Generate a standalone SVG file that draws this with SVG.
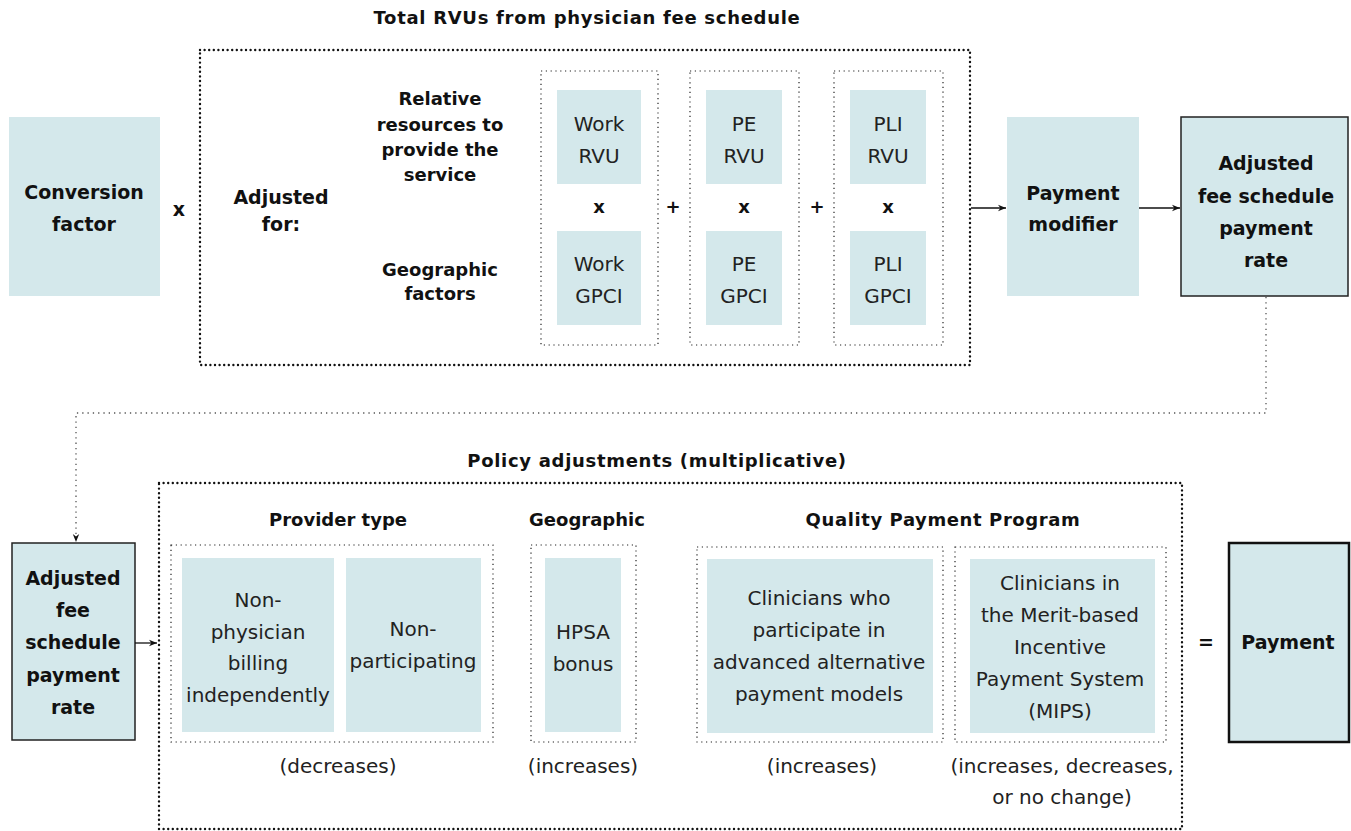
<svg xmlns="http://www.w3.org/2000/svg" width="1351" height="831" viewBox="0 0 1351 831">
<style>
.t{fill:#d4e8eb}
.nb{fill:#d4e8eb;stroke:#222;stroke-width:1.5}
.pb{fill:#d4e8eb;stroke:#111;stroke-width:2.5}
.big{fill:none;stroke:#111;stroke-width:2.4;stroke-dasharray:0 4.6;stroke-linecap:round}
.sm{fill:none;stroke:#222;stroke-width:1.2;stroke-dasharray:1.2 3.6}
.b{font-family:"DejaVu Sans","Liberation Sans",sans-serif;font-weight:700;fill:#111;text-anchor:middle}
.r{font-family:"DejaVu Sans","Liberation Sans",sans-serif;font-weight:400;fill:#222;text-anchor:middle;font-size:20px}
.f19{font-size:19px}
.f18{font-size:18px}
.ti{font-size:18px;letter-spacing:0.7px}
.qp{letter-spacing:0.6px}
.ln{fill:none;stroke:#111;stroke-width:1.3}
.dl{fill:none;stroke:#555;stroke-width:1.3;stroke-dasharray:1.3 4;stroke-linecap:butt}
</style>
<defs>
<marker id="ah" viewBox="0 0 10 10" refX="10" refY="5" markerWidth="8" markerHeight="8" markerUnits="userSpaceOnUse" orient="auto">
<path d="M0,1 L10,5 L0,9 L3,5 Z" fill="#111"/>
</marker>
</defs>

<text class="b ti" x="587" y="24">Total RVUs from physician fee schedule</text>
<text class="b ti" x="657" y="467">Policy adjustments (multiplicative)</text>

<g id="conversion">
<rect class="t" x="9" y="117" width="151" height="179"/>
<text class="b f19" x="84" y="199">Conversion</text>
<text class="b f19" x="84" y="231">factor</text>
</g>
<text class="b f19" x="179" y="216">x</text>

<g id="total-rvus">
<rect class="big" x="200" y="50" width="770" height="315"/>
<text class="b f19" x="281" y="204">Adjusted</text>
<text class="b f19" x="281" y="231">for:</text>
<text class="b f18" x="440" y="105">Relative</text>
<text class="b f18" x="440" y="131">resources to</text>
<text class="b f18" x="440" y="156">provide the</text>
<text class="b f18" x="440" y="181">service</text>
<text class="b f18" x="440" y="276">Geographic</text>
<text class="b f18" x="440" y="300">factors</text>
</g>

<g id="work">
<rect class="sm" x="541" y="71" width="117" height="274"/>
<rect class="t" x="557" y="90" width="84" height="94"/>
<text class="r" x="599" y="131">Work</text>
<text class="r" x="599" y="163">RVU</text>
<text class="b f18" x="599" y="213">x</text>
<rect class="t" x="557" y="231" width="84" height="94"/>
<text class="r" x="599" y="271">Work</text>
<text class="r" x="599" y="303">GPCI</text>
</g>
<text class="b f18" x="673" y="213">+</text>
<g id="pe">
<rect class="sm" x="690" y="71" width="109" height="274"/>
<rect class="t" x="706" y="90" width="76" height="94"/>
<text class="r" x="744" y="131">PE</text>
<text class="r" x="744" y="163">RVU</text>
<text class="b f18" x="744" y="213">x</text>
<rect class="t" x="706" y="231" width="76" height="94"/>
<text class="r" x="744" y="271">PE</text>
<text class="r" x="744" y="303">GPCI</text>
</g>
<text class="b f18" x="817" y="213">+</text>
<g id="pli">
<rect class="sm" x="834" y="71" width="109" height="274"/>
<rect class="t" x="850" y="90" width="76" height="94"/>
<text class="r" x="888" y="131">PLI</text>
<text class="r" x="888" y="163">RVU</text>
<text class="b f18" x="888" y="213">x</text>
<rect class="t" x="850" y="231" width="76" height="94"/>
<text class="r" x="888" y="271">PLI</text>
<text class="r" x="888" y="303">GPCI</text>
</g>

<g id="payment-modifier">
<rect class="t" x="1007" y="117" width="132" height="179"/>
<text class="b f19" x="1073" y="200">Payment</text>
<text class="b f19" x="1073" y="231">modifier</text>
</g>

<g id="adjusted-top">
<rect class="nb" x="1181" y="117" width="167" height="179"/>
<text class="b f19" x="1266" y="170">Adjusted</text>
<text class="b f19" x="1266" y="203">fee schedule</text>
<text class="b f19" x="1266" y="235">payment</text>
<text class="b f19" x="1266" y="267">rate</text>
</g>

<g id="adjusted-bottom">
<rect class="nb" x="12" y="543" width="123" height="197"/>
<text class="b f19" x="73" y="585">Adjusted</text>
<text class="b f19" x="73" y="617">fee</text>
<text class="b f19" x="73" y="649">schedule</text>
<text class="b f19" x="73" y="682">payment</text>
<text class="b f19" x="73" y="714">rate</text>
</g>

<g id="policy">
<rect class="big" x="159" y="483" width="1023" height="346"/>
</g>

<g id="provider-type">
<text class="b f18" x="338" y="526">Provider type</text>
<rect class="sm" x="171" y="545" width="322" height="197"/>
<rect class="t" x="182" y="558" width="152" height="174"/>
<text class="r" x="258" y="607">Non-</text>
<text class="r" x="258" y="639">physician</text>
<text class="r" x="258" y="670">billing</text>
<text class="r" x="258" y="702">independently</text>
<rect class="t" x="346" y="558" width="135" height="174"/>
<text class="r" x="413" y="636">Non-</text>
<text class="r" x="413" y="668">participating</text>
<text class="r" x="338" y="773">(decreases)</text>
</g>

<g id="geographic">
<text class="b f18" x="587" y="526">Geographic</text>
<rect class="sm" x="531" y="545" width="105" height="197"/>
<rect class="t" x="545" y="558" width="76" height="174"/>
<text class="r" x="583" y="639">HPSA</text>
<text class="r" x="583" y="671">bonus</text>
<text class="r" x="583" y="773">(increases)</text>
</g>

<g id="qpp">
<text class="b f18 qp" x="943" y="526">Quality Payment Program</text>
<rect class="sm" x="697" y="547" width="246" height="195"/>
<rect class="t" x="707" y="559" width="226" height="174"/>
<text class="r" x="819" y="605">Clinicians who</text>
<text class="r" x="819" y="637">participate in</text>
<text class="r" x="819" y="669">advanced alternative</text>
<text class="r" x="819" y="701">payment models</text>
<text class="r" x="822" y="773">(increases)</text>
<rect class="sm" x="955" y="547" width="211" height="195"/>
<rect class="t" x="970" y="559" width="185" height="174"/>
<text class="r" x="1060" y="590">Clinicians in</text>
<text class="r" x="1060" y="622">the Merit-based</text>
<text class="r" x="1060" y="654">Incentive</text>
<text class="r" x="1060" y="686">Payment System</text>
<text class="r" x="1060" y="718">(MIPS)</text>
<text class="r" x="1062" y="773">(increases, decreases,</text>
<text class="r" x="1062" y="804">or no change)</text>
</g>

<text class="b f19" x="1206" y="649">=</text>

<g id="payment">
<rect class="pb" x="1229" y="543" width="120" height="199"/>
<text class="b f19" x="1288" y="649">Payment</text>
</g>

<g id="connectors">
<line class="ln" x1="971" y1="208" x2="1006" y2="208" marker-end="url(#ah)"/>
<line class="ln" x1="1139" y1="208" x2="1180" y2="208" marker-end="url(#ah)"/>
<polyline class="dl" points="1266,297 1266,413 76,413 76,542" marker-end="url(#ah)"/>
<line class="ln" x1="135" y1="643" x2="157" y2="643" marker-end="url(#ah)"/>
</g>
</svg>
